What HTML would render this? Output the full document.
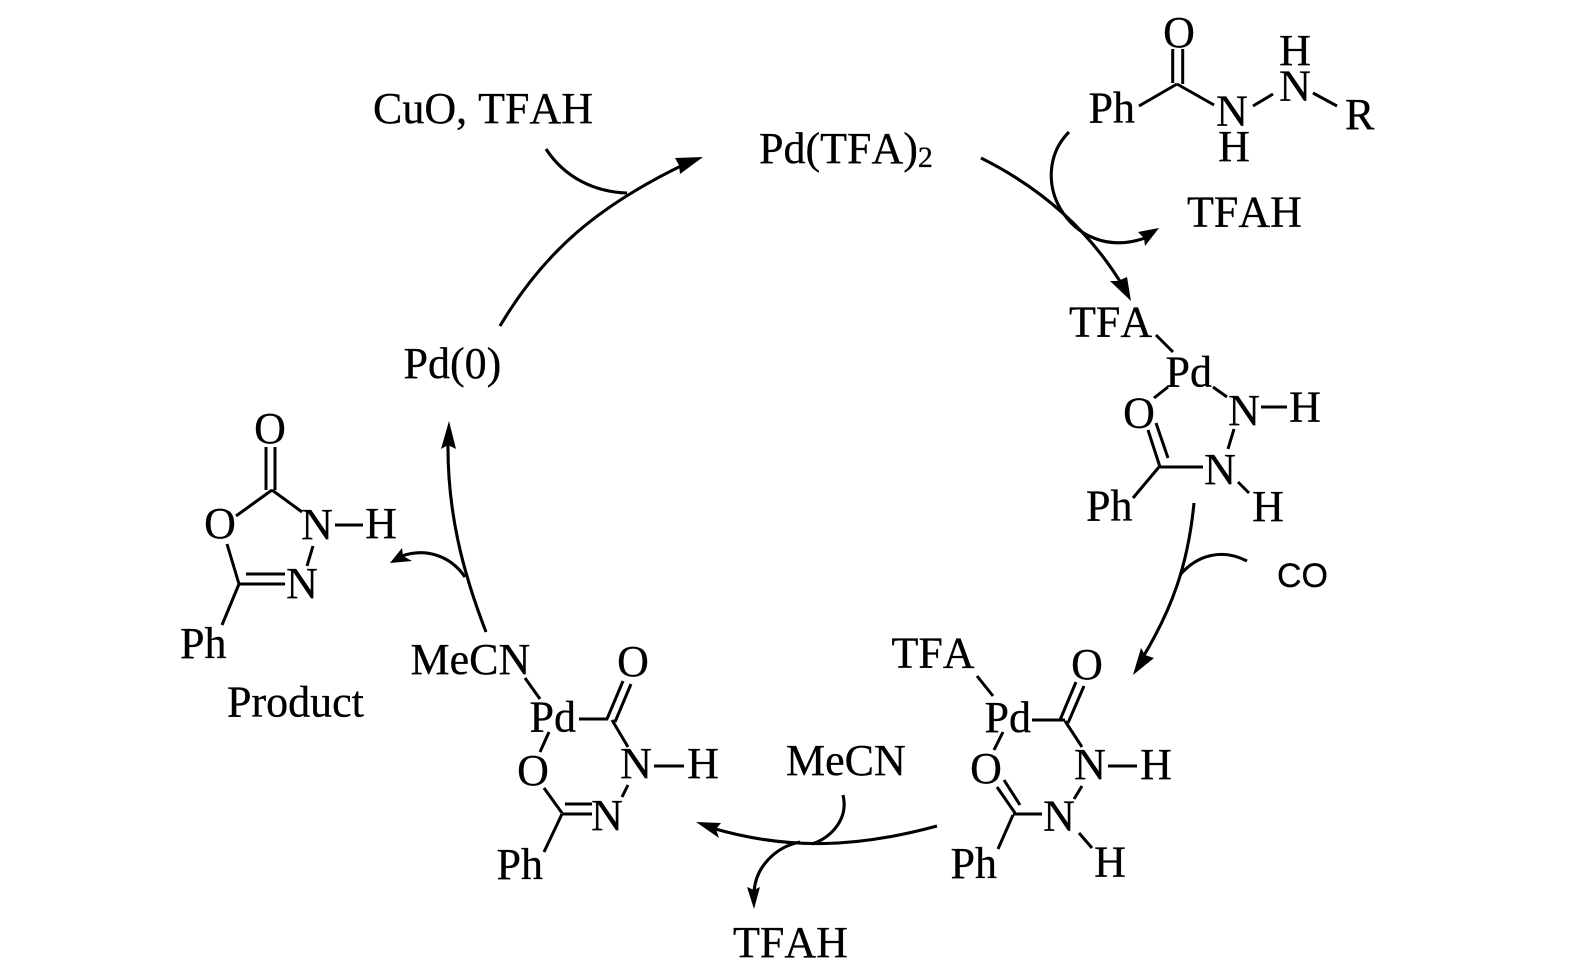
<!DOCTYPE html>
<html>
<head>
<meta charset="utf-8">
<style>
html,body{margin:0;padding:0;background:#fff;width:1575px;height:980px;overflow:hidden}
svg{display:block}
text{font-family:"Liberation Serif",serif;font-size:44px;fill:#000;font-kerning:none;stroke:#000;stroke-width:.3}
.m{text-anchor:middle}
.b{stroke:#000;stroke-width:3;fill:none}
.a{stroke:#000;stroke-width:3.1;fill:none}
</style>
</head>
<body>
<svg width="1575" height="980" viewBox="0 0 1575 980" xmlns="http://www.w3.org/2000/svg">
<rect width="1575" height="980" fill="#fff"/>

<!-- top labels -->
<text x="373" y="123">CuO, TFAH</text>
<text x="759" y="163">Pd(TFA)<tspan font-size="30" dy="4">2</tspan></text>

<!-- substrate -->
<text x="1088.5" y="122.5">Ph</text>
<text class="m" x="1179" y="47">O</text>
<text class="m" x="1232" y="125.5">N</text>
<text class="m" x="1234" y="161">H</text>
<text class="m" x="1295" y="100.5">N</text>
<text class="m" x="1295" y="65">H</text>
<text x="1345" y="129">R</text>
<text x="1187" y="226.5">TFAH</text>
<path class="b" d="M1139 106L1177 84M1172.7 49V83M1182.7 49V84M1177 84L1214 105M1253 106L1273 94M1313 93L1337 106"/>

<!-- intermediate 1 -->
<text x="1069" y="336.5">TFA</text>
<text x="1165.5" y="386.5">Pd</text>
<text class="m" x="1139" y="427.5">O</text>
<text class="m" x="1244" y="425">N</text>
<text class="m" x="1305" y="421.5">H</text>
<text class="m" x="1220" y="484">N</text>
<text class="m" x="1268" y="521">H</text>
<text x="1086" y="520.5">Ph</text>
<path class="b" d="M1156 335L1173 352M1168 387L1154 398M1213 387L1227 397M1261 407H1287M1234 429L1228 449M1148 430L1160 467M1156 423L1168 458M1159 467H1203M1159 467L1133 498M1238 482L1249 493"/>
<text x="1277" y="587" style="font-family:'Liberation Sans',sans-serif;font-size:34px">CO</text>

<!-- intermediate 2 -->
<text x="891.5" y="667.5">TFA</text>
<text x="984.5" y="732">Pd</text>
<text class="m" x="1087" y="679">O</text>
<text class="m" x="1090" y="779">N</text>
<text class="m" x="1156" y="779">H</text>
<text class="m" x="986" y="783">O</text>
<text class="m" x="1059" y="830.5">N</text>
<text class="m" x="1110" y="876.5">H</text>
<text x="950.5" y="878">Ph</text>
<path class="b" d="M977 676L993 696M1032 720H1065M1060 720L1076 682M1068 723L1084 686M1065 721L1082 747M1108 766H1137M1082 786L1074 799M1003 732L994 750M997 787L1015 813M1004 780L1020 805M1013 814H1042M1013 815L998 849M1079 833L1092 848"/>

<!-- intermediate 3 -->
<text x="410.5" y="674">MeCN</text>
<text x="529.5" y="731.5">Pd</text>
<text class="m" x="633" y="676">O</text>
<text class="m" x="636" y="778">N</text>
<text class="m" x="703" y="778">H</text>
<text class="m" x="533" y="785">O</text>
<text class="m" x="607" y="830">N</text>
<text x="496.5" y="879">Ph</text>
<path class="b" d="M525 678L540 699M579 719H608M607 719L623 681M615 722L631 684M612 720L628 747M654 766H684M628 785L622 797M549 732L540 752M544 788L562 813M565 804H592M562 814H592M562 814L544 852"/>

<!-- product -->
<text class="m" x="270" y="443">O</text>
<text class="m" x="220" y="538">O</text>
<text class="m" x="317" y="539">N</text>
<text class="m" x="381" y="538">H</text>
<text class="m" x="302" y="598">N</text>
<text x="180" y="658">Ph</text>
<text x="227" y="716.5">Product</text>
<path class="b" d="M266 447V490M275 447V490M272 490L236 516M272 490L302 512M335 525H363M313 546L307 566M227 544L239 584M246 574H285M239 584H285M239 584L222 625"/>

<!-- others -->
<text x="403.5" y="378">Pd(0)</text>
<text x="786" y="775">MeCN</text>
<text x="733" y="957">TFAH</text>

<!-- arrows -->
<path class="a" d="M981 158Q1075 205 1124 288"/>
<polygon points="1131,301 1110,281 1118,281 1127,277"/>
<path class="a" d="M1069 132C1046 155 1048 188 1060 208C1076 236 1108 251 1145 238"/>
<polygon points="1159,228 1138,232 1144,238 1145,246"/>
<path class="a" d="M1194 503C1188 565 1172 610 1140 662"/>
<polygon points="1133,675 1141,648 1145,655 1154,658"/>
<path class="a" d="M1247 561C1222 548 1197 555 1180 575"/>
<path class="a" d="M937 826C860 847 790 851 712 828"/>
<polygon points="696,822 721,823 716,829 719,838"/>
<path class="a" d="M843 795C849 820 830 838 812 844"/>
<path class="a" d="M800 842C775 847 754 868 754 895"/>
<polygon points="754,909 747,887 754,890 760,887"/>
<path class="a" d="M486 632C462 570 447 510 448 440"/>
<polygon points="449,421 441,449 448,445 456,449"/>
<path class="a" d="M465 577C450 555 425 548 402 556"/>
<polygon points="390,563 402,548 403,556 412,561"/>
<path class="a" d="M500 326C545 250 600 205 685 164"/>
<polygon points="703,157 675,158 679,165 680,174"/>
<path class="a" d="M546 149C565 178 595 192 627 193"/>
</svg>
</body>
</html>
